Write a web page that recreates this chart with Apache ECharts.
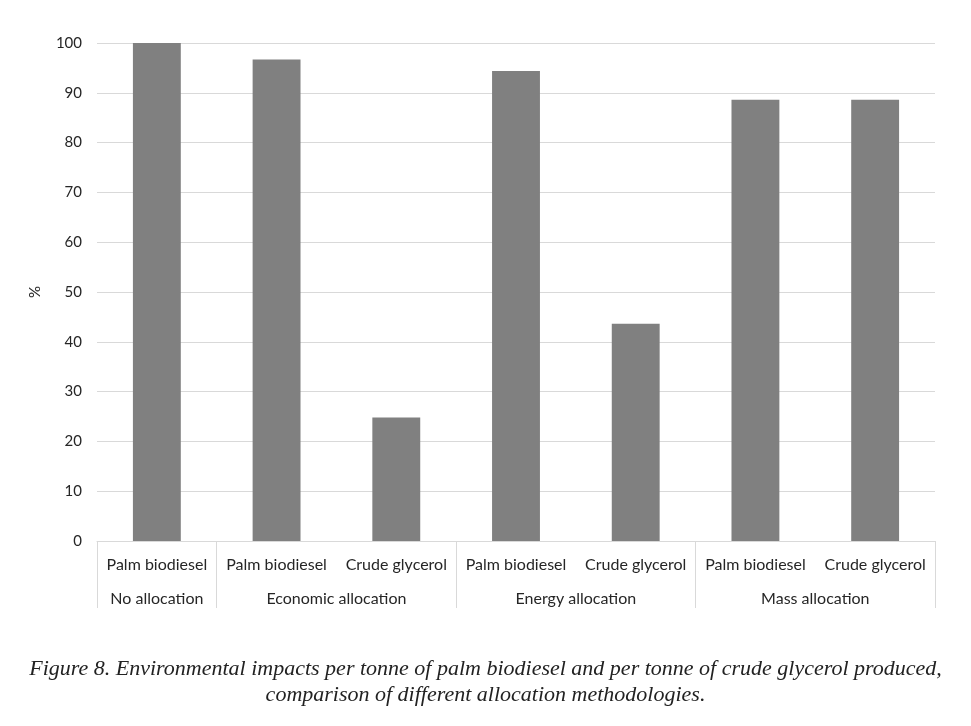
<!DOCTYPE html>
<html>
<head>
<meta charset="utf-8">
<script src="https://cdn.jsdelivr.net/npm/echarts@6/dist/echarts.min.js"></script>
<style>
html,body{margin:0;padding:0;background:#fff;}
#chart{width:971px;height:726px;}
</style>
</head>
<body>
<div id="chart"></div>
<script>
var categories = ["Palm biodiesel","Palm biodiesel","Crude glycerol","Palm biodiesel","Crude glycerol","Palm biodiesel","Crude glycerol"];
var values = [100, 96.7, 24.8, 94.4, 43.6, 88.6, 88.6];
var groups = ["No allocation","Economic allocation","Energy allocation","Mass allocation"];
var groupSizes = [1, 2, 2, 2];
var yTicks = [0,10,20,30,40,50,60,70,80,90,100];
var caption = "Figure 8. Environmental impacts per tonne of palm biodiesel and per tonne of crude glycerol produced,\ncomparison of different allocation methodologies.";

// group boundaries and centers (in category units)
var boundaries = [0];
var centers = {};
var acc = 0;
groupSizes.forEach(function(s, i){
  centers[(acc + s/2).toFixed(2)] = groups[i];
  acc += s;
  boundaries.push(acc);
});
var boundaryStart = boundaries.slice(0, -1);

var chart = echarts.init(document.getElementById('chart'));
var labelFont = 'Lato';
chart.setOption({
  animation: false,
  backgroundColor: '#ffffff',
  title: {
    text: caption,
    left: 'center',
    top: 651,
    textStyle: {
      fontFamily: 'Liberation Serif',
      fontStyle: 'italic',
      fontWeight: 'normal',
      fontSize: 22,
      lineHeight: 26,
      color: '#222222'
    }
  },
  grid: { left: 97, right: 36, top: 43, bottom: 185 },
  xAxis: [
    {
      type: 'category',
      data: categories,
      axisLine: { show: true, lineStyle: { color: '#d9d9d9', width: 1 } },
      axisTick: {
        show: true,
        length: 67,
        lineStyle: { color: '#d9d9d9', width: 1 },
        interval: function(idx){ return boundaryStart.indexOf(idx) >= 0; }
      },
      axisLabel: {
        interval: 0,
        margin: 16,
        fontFamily: labelFont,
        fontSize: 16,
        color: '#262626'
      }
    },
    {
      type: 'value',
      position: 'bottom',
      offset: 34,
      min: 0,
      max: categories.length,
      interval: 0.5,
      axisLine: { show: false },
      axisTick: { show: false },
      splitLine: { show: false },
      axisLabel: {
        margin: 16,
        fontFamily: labelFont,
        fontSize: 16,
        color: '#262626',
        showMinLabel: true,
        showMaxLabel: true,
        formatter: function(v){ return centers[v.toFixed(2)] || ''; }
      }
    }
  ],
  yAxis: {
    type: 'value',
    min: yTicks[0],
    max: yTicks[yTicks.length-1],
    interval: 10,
    name: '%',
    nameLocation: 'middle',
    nameGap: 54,
    nameRotate: 90,
    nameTextStyle: { fontFamily: labelFont, fontSize: 15, color: '#262626' },
    axisLine: { show: false },
    axisTick: { show: false },
    splitLine: { lineStyle: { color: '#d9d9d9', width: 1 } },
    axisLabel: { margin: 15, fontFamily: labelFont, fontSize: 15, color: '#262626' }
  },
  series: [{
    type: 'bar',
    xAxisIndex: 0,
    data: values,
    barWidth: '40%',
    itemStyle: { color: '#808080' }
  }]
});
</script>
</body>
</html>
